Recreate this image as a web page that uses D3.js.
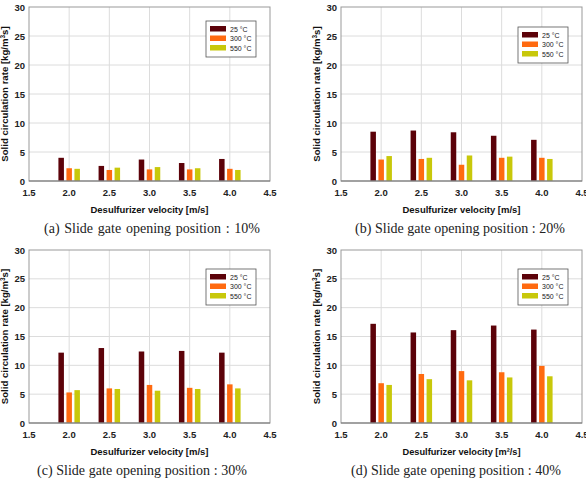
<!DOCTYPE html>
<html lang="en">
  <head>
    <meta charset="UTF-8" />
    <title>Solid circulation rate</title>
    <script src="https://d3js.org/d3.v7.min.js"></script>
    <style>
      body { margin: 0; background: #fff; }
      .tick-label { font-family: 'Liberation Sans', Arial, sans-serif; font-weight: bold; font-size: 9.5px; fill: #222; }
      .axis-title { font-family: 'Liberation Sans', Arial, sans-serif; font-weight: bold; font-size: 9.6px; fill: #111; }
      .legend-text { font-family: 'Liberation Sans', Arial, sans-serif; font-size: 7px; fill: #222; }
      .caption { font-family: 'Liberation Serif', 'DejaVu Serif', serif; font-size: 14px; fill: #222; }
    </style>
  </head>
  <body>
    <div id="chart"></div>
    <script>
      const velocities = [2.0, 2.5, 3.0, 3.5, 4.0]
      const temps = ['25 °C', '300 °C', '550 °C']
      const colors = ['#5c0209', '#ff6a10', '#c8c80a']
      const xTicks = [1.5, 2.0, 2.5, 3.0, 3.5, 4.0, 4.5]
      const yTicks = [0, 5, 10, 15, 20, 25, 30]

      // rows: 25, 300, 550 C ; columns: velocities
      const open10 = [
        [4.0, 2.6, 3.7, 3.1, 3.8],
        [2.2, 1.9, 2.0, 2.0, 2.1],
        [2.1, 2.3, 2.4, 2.2, 1.9],
      ]
      const open20 = [
        [8.5, 8.7, 8.4, 7.8, 7.1],
        [3.7, 3.8, 2.8, 4.0, 4.0],
        [4.3, 4.0, 4.4, 4.2, 3.8],
      ]
      const open30 = [
        [12.2, 13.0, 12.4, 12.5, 12.2],
        [5.3, 6.0, 6.6, 6.1, 6.7],
        [5.7, 5.9, 5.6, 5.9, 6.0],
      ]
      const open40 = [
        [17.2, 15.7, 16.1, 16.9, 16.2],
        [6.9, 8.5, 9.0, 8.8, 9.9],
        [6.6, 7.6, 7.4, 7.9, 8.1],
      ]

      const panels = [
        { data: open10, left: 29, top: 7, bottom: 181, legendTop: 21, capX: 152, capW: 216,
          xTitle: 'Desulfurizer velocity [m/s]', caption: '(a) Slide gate opening position : 10%' },
        { data: open20, left: 341, top: 7, bottom: 181, legendTop: 27, capX: 460, capW: 210,
          xTitle: 'Desulfurizer velocity [m/s]', caption: '(b) Slide gate opening position : 20%' },
        { data: open30, left: 29, top: 250, bottom: 423, legendTop: 269, capX: 142, capW: 210,
          xTitle: 'Desulfurizer velocity [m/s]', caption: '(c) Slide gate opening position : 30%' },
        { data: open40, left: 341, top: 250, bottom: 423, legendTop: 269, capX: 456, capW: 210,
          xTitle: 'Desulfurizer velocity [m²/s]', caption: '(d) Slide gate opening position : 40%' },
      ]

      const width = 586
      const height = 491
      const plotW = 241

      const svg = d3.select('#chart').append('svg')
        .attr('width', width)
        .attr('height', height)

      panels.forEach(p => {
        const x = d3.scaleLinear().domain([1.5, 4.5]).range([p.left, p.left + plotW])
        const y = d3.scaleLinear().domain([0, 30]).range([p.bottom, p.top])
        const g = svg.append('g')

        // grid
        g.selectAll('.gx').data(xTicks.slice(1, -1)).enter().append('line')
          .attr('x1', d => x(d)).attr('x2', d => x(d))
          .attr('y1', p.top).attr('y2', p.bottom)
          .attr('stroke', '#dcdcdc').attr('stroke-width', 1)
        g.selectAll('.gy').data(yTicks.slice(1, -1)).enter().append('line')
          .attr('x1', p.left).attr('x2', p.left + plotW)
          .attr('y1', d => y(d)).attr('y2', d => y(d))
          .attr('stroke', '#dcdcdc').attr('stroke-width', 1)

        // bars
        const barW = 5.5
        const step = 8
        p.data.forEach((series, si) => {
          g.selectAll('.bar' + si).data(series).enter().append('rect')
            .attr('x', (d, i) => x(velocities[i]) + (si - 1) * step - barW / 2)
            .attr('y', d => y(d))
            .attr('width', barW)
            .attr('height', d => p.bottom - y(d))
            .attr('fill', colors[si])
        })

        // frame
        g.append('rect')
          .attr('x', p.left).attr('y', p.top)
          .attr('width', plotW).attr('height', p.bottom - p.top)
          .attr('fill', 'none').attr('stroke', '#999').attr('stroke-width', 1)
        g.append('line')
          .attr('x1', p.left).attr('x2', p.left + plotW)
          .attr('y1', p.bottom).attr('y2', p.bottom)
          .attr('stroke', '#777').attr('stroke-width', 1.2)

        // tick labels
        g.selectAll('.xt').data(xTicks).enter().append('text')
          .attr('class', 'tick-label')
          .attr('x', d => x(d)).attr('y', p.bottom + 15)
          .attr('text-anchor', 'middle')
          .text(d => d3.format('.1f')(d))
        g.selectAll('.yt').data(yTicks).enter().append('text')
          .attr('class', 'tick-label')
          .attr('x', p.left - 4).attr('y', d => y(d) + 3.5)
          .attr('text-anchor', 'end')
          .text(d => d)

        // y title
        const yt = g.append('text')
          .attr('class', 'axis-title')
          .attr('transform', `translate(${p.left - 21},${(p.top + p.bottom) / 2}) rotate(-90)`)
          .attr('text-anchor', 'middle')
        yt.append('tspan').text('Solid circulation rate [kg/m')
        yt.append('tspan').attr('baseline-shift', 'super').attr('font-size', '6.5px').text('3')
        yt.append('tspan').text('s]')

        // x title
        g.append('text')
          .attr('class', 'axis-title')
          .attr('x', p.left + plotW / 2).attr('y', p.bottom + 32)
          .attr('text-anchor', 'middle')
          .attr('textLength', 118)
          .attr('lengthAdjust', 'spacingAndGlyphs')
          .text(p.xTitle)

        // caption: widen the gaps between words, as in the original
        const cap = g.append('text')
          .attr('class', 'caption')
          .attr('x', p.capX).attr('y', p.bottom + 52)
          .attr('text-anchor', 'middle')
          .text(p.caption)
        const natural = cap.node().getComputedTextLength()
        const gaps = p.caption.split(' ').length - 1
        cap.style('word-spacing', Math.max(0, (p.capW - natural) / gaps) + 'px')

        // legend
        const lx = p.left + plotW - 64
        const lg = g.append('g').attr('transform', `translate(${lx},${p.legendTop})`)
        lg.append('rect')
          .attr('width', 50).attr('height', 36)
          .attr('fill', '#fff').attr('stroke', '#555').attr('stroke-width', 0.8)
        temps.forEach((t, i) => {
          lg.append('rect')
            .attr('x', 4).attr('y', 5 + i * 9.5)
            .attr('width', 16).attr('height', 5.5)
            .attr('fill', colors[i])
          lg.append('text')
            .attr('class', 'legend-text')
            .attr('x', 24).attr('y', 10.5 + i * 9.5)
            .text(t)
        })
      })
    </script>
  </body>
</html>
